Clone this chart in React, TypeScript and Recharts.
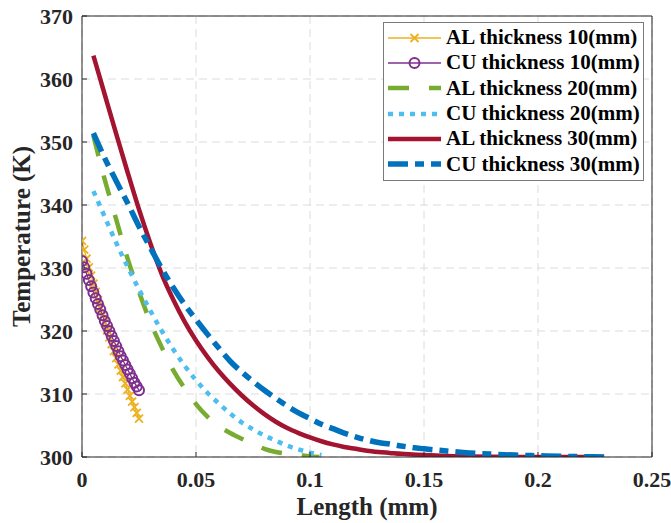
import { LineChart, Line, XAxis, YAxis, CartesianGrid, Label } from "recharts";

const FONT = "'Liberation Serif', 'Times New Roman', serif";
const INK = "#262626";

const xTicks = [0, 0.05, 0.1, 0.15, 0.2, 0.25];
const yTicks = [300, 310, 320, 330, 340, 350, 360, 370];

// 10 mm fins (dense, with markers)
const al10X = [0, 0.001, 0.002, 0.003, 0.004, 0.005, 0.006, 0.007, 0.008, 0.009, 0.01, 0.011, 0.012, 0.013, 0.014, 0.015, 0.016, 0.017, 0.018, 0.019, 0.02, 0.021, 0.022, 0.023, 0.024, 0.025];
const al10Y = [334.3, 332.9, 331.5, 330.1, 328.8, 327.5, 326.2, 324.9, 323.7, 322.5, 321.3, 320.1, 319.0, 317.9, 316.8, 315.7, 314.7, 313.7, 312.7, 311.7, 310.7, 309.7, 308.8, 307.9, 307.0, 306.1];
const cu10X = [0, 0.001, 0.002, 0.003, 0.004, 0.005, 0.006, 0.007, 0.008, 0.009, 0.01, 0.011, 0.012, 0.013, 0.014, 0.015, 0.016, 0.017, 0.018, 0.019, 0.02, 0.021, 0.022, 0.023, 0.024, 0.025];
const cu10Y = [331.1, 330.1, 329.1, 328.1, 327.1, 326.1, 325.2, 324.3, 323.4, 322.5, 321.6, 320.8, 320.0, 319.2, 318.4, 317.6, 316.8, 316.0, 315.3, 314.6, 313.9, 313.2, 312.5, 311.8, 311.2, 310.6];

// 20 mm fins
const al20X = [0.005, 0.01, 0.015, 0.02, 0.025, 0.03, 0.035, 0.04, 0.045, 0.05, 0.055, 0.06, 0.065, 0.07, 0.075, 0.08, 0.085, 0.09, 0.095, 0.1, 0.104];
const al20Y = [351.0, 344.0, 337.7, 331.5, 326.2, 321.4, 317.4, 313.8, 310.9, 308.4, 306.4, 304.9, 303.8, 302.9, 302.1, 301.3, 300.8, 300.5, 300.3, 300.1, 300.0];
const cu20X = [0.005, 0.01, 0.015, 0.02, 0.025, 0.03, 0.035, 0.04, 0.045, 0.05, 0.055, 0.06, 0.065, 0.07, 0.075, 0.08, 0.085, 0.09, 0.095, 0.1, 0.105];
const cu20Y = [342.2, 338.1, 334.0, 330.2, 326.6, 323.2, 320.0, 317.1, 314.5, 312.2, 310.2, 308.5, 306.9, 305.5, 304.4, 303.4, 302.6, 301.8, 301.2, 300.7, 300.3];

// 30 mm fins
const al30X = [0.005, 0.01, 0.015, 0.02, 0.025, 0.03, 0.035, 0.04, 0.045, 0.05, 0.055, 0.06, 0.065, 0.07, 0.075, 0.08, 0.085, 0.09, 0.095, 0.1, 0.105, 0.11, 0.115, 0.12, 0.125, 0.13, 0.135, 0.14, 0.145, 0.15, 0.16, 0.17, 0.18, 0.19, 0.2, 0.21, 0.22, 0.229];
const al30Y = [363.7, 357.5, 351.3, 345.2, 339.3, 333.9, 329.0, 325.0, 321.5, 318.5, 315.9, 313.6, 311.6, 309.8, 308.2, 306.8, 305.6, 304.6, 303.8, 303.1, 302.5, 302.0, 301.6, 301.3, 301.0, 300.8, 300.65, 300.5, 300.4, 300.3, 300.15, 300.08, 300.03, 300.01, 300.0, 300.0, 300.0, 300.0];
const cu30X = [0.005, 0.01, 0.015, 0.02, 0.025, 0.03, 0.035, 0.04, 0.045, 0.05, 0.055, 0.06, 0.065, 0.07, 0.075, 0.08, 0.085, 0.09, 0.095, 0.1, 0.105, 0.11, 0.115, 0.12, 0.125, 0.13, 0.135, 0.14, 0.145, 0.15, 0.16, 0.17, 0.18, 0.19, 0.2, 0.21, 0.22, 0.229];
const cu30Y = [351.4, 347.4, 343.8, 340.3, 336.6, 333.2, 329.9, 326.9, 324.2, 321.8, 319.5, 317.3, 315.2, 313.5, 312.0, 310.6, 309.3, 308.1, 307.0, 306.1, 305.2, 304.5, 303.8, 303.2, 302.7, 302.3, 302.05, 301.75, 301.5, 301.3, 300.95, 300.65, 300.45, 300.3, 300.2, 300.1, 300.05, 300.0];

const seriesNames = [
  "AL thickness 10(mm)",
  "CU thickness 10(mm)",
  "AL thickness 20(mm)",
  "CU thickness 20(mm)",
  "AL thickness 30(mm)",
  "CU thickness 30(mm)",
];

const zip = (xs: number[], ys: number[]) => xs.map((x, i) => ({ x, y: ys[i] }));

const series = [
  { data: zip(al10X, al10Y), color: "#EDB120", width: 1.3, dash: undefined as string | undefined, marker: "x" },
  { data: zip(cu10X, cu10Y), color: "#7E2F8E", width: 1.3, dash: undefined, marker: "o" },
  { data: zip(al20X, al20Y), color: "#77AC30", width: 4.5, dash: "21 20", marker: "" },
  { data: zip(cu20X, cu20Y), color: "#4DBEEE", width: 4.5, dash: "5 6", marker: "" },
  { data: zip(al30X, al30Y), color: "#A2142F", width: 4.5, dash: undefined, marker: "" },
  { data: zip(cu30X, cu30Y), color: "#0072BD", width: 5.5, dash: "20 7 9 7", marker: "" },
];

function Marker({ kind, cx, cy, color }: { kind: string; cx: number; cy: number; color: string }) {
  if (kind === "x") {
    const s = 4;
    return (
      <path
        d={`M${cx - s},${cy - s}L${cx + s},${cy + s}M${cx - s},${cy + s}L${cx + s},${cy - s}`}
        stroke={color}
        strokeWidth={1.8}
        fill="none"
      />
    );
  }
  if (kind === "o") {
    return <circle cx={cx} cy={cy} r={5} stroke={color} strokeWidth={2} fill="none" />;
  }
  return null;
}

function makeDot(kind: string, color: string) {
  return (props: any) => {
    const { cx, cy, index } = props;
    if (cx == null || cy == null) return <g key={`d-${index}`} />;
    return (
      <g key={`d-${index}`}>
        <Marker kind={kind} cx={cx} cy={cy} color={color} />
      </g>
    );
  };
}

function ChartLegend() {
  return (
    <div
      style={{
        position: "absolute",
        left: 383,
        top: 22,
        width: 259,
        height: 155,
        border: "1px solid #7a7a7a",
        background: "#fff",
        paddingTop: 2,
        boxSizing: "content-box",
      }}
    >
      {series.map((s, i) => (
        <div key={i} style={{ display: "flex", alignItems: "center", height: 25.3 }}>
          <svg width={62} height={20} style={{ flex: "none" }}>
            <line
              x1={4}
              x2={57}
              y1={10}
              y2={10}
              stroke={s.color}
              strokeWidth={s.width}
              strokeDasharray={s.dash}
            />
            <Marker kind={s.marker} cx={30.5} cy={10} color={s.color} />
          </svg>
          <span
            style={{
              fontFamily: FONT,
              fontWeight: 700,
              fontSize: 21,
              color: "#000",
              whiteSpace: "nowrap",
              lineHeight: "25px",
            }}
          >
            {seriesNames[i]}
          </span>
        </div>
      ))}
    </div>
  );
}

export default function App() {
  const tickStyle = { fill: INK, fontSize: 22, fontFamily: FONT, fontWeight: 700 };
  return (
    <div style={{ position: "relative", width: 671, height: 523, background: "#fff" }}>
      <style>{`body{margin:0}`}</style>
      <LineChart width={671} height={523} margin={{ top: 15, right: 0, bottom: 0, left: 0 }}>
        <CartesianGrid stroke="#dcdcdc" strokeDasharray="8 5" />
        <XAxis
          dataKey="x"
          type="number"
          domain={[0, 0.25]}
          ticks={xTicks}
          interval={0}
          height={66}
          tickSize={-5}
          tickMargin={19}
          tick={tickStyle}
          axisLine={{ stroke: INK }}
          tickLine={{ stroke: INK }}
          allowDataOverflow
        >
          <Label
            value="Length (mm)"
            position="insideBottom"
            offset={8}
            style={{ fontSize: 25, fontWeight: 700, fontFamily: FONT, fill: INK }}
          />
        </XAxis>
        <XAxis
          xAxisId="top"
          orientation="top"
          type="number"
          domain={[0, 0.25]}
          ticks={xTicks}
          interval={0}
          height={1}
          tickSize={-5}
          tick={false}
          axisLine={{ stroke: INK }}
          tickLine={{ stroke: INK }}
          allowDataOverflow
        />
        <YAxis
          type="number"
          domain={[300, 370]}
          ticks={yTicks}
          interval={0}
          width={82}
          tickSize={-5}
          tickMargin={14}
          tick={tickStyle}
          axisLine={{ stroke: INK }}
          tickLine={{ stroke: INK }}
          allowDataOverflow
        >
          <Label
            value="Temperature (K)"
            angle={-90}
            position="insideLeft"
            offset={21}
            style={{ textAnchor: "middle", fontSize: 25, fontWeight: 700, fontFamily: FONT, fill: INK }}
          />
        </YAxis>
        <YAxis
          yAxisId="right"
          orientation="right"
          type="number"
          domain={[300, 370]}
          ticks={yTicks}
          interval={0}
          width={19}
          tickSize={-5}
          tick={false}
          axisLine={{ stroke: INK }}
          tickLine={{ stroke: INK }}
          allowDataOverflow
        />
        {series.map((s, i) => (
          <Line
            key={seriesNames[i]}
            name={seriesNames[i]}
            data={s.data}
            dataKey="y"
            type="monotone"
            stroke={s.color}
            strokeWidth={s.width}
            strokeDasharray={s.dash}
            dot={s.marker ? makeDot(s.marker, s.color) : false}
            activeDot={false}
            isAnimationActive={false}
          />
        ))}
      </LineChart>
      <ChartLegend />
    </div>
  );
}
